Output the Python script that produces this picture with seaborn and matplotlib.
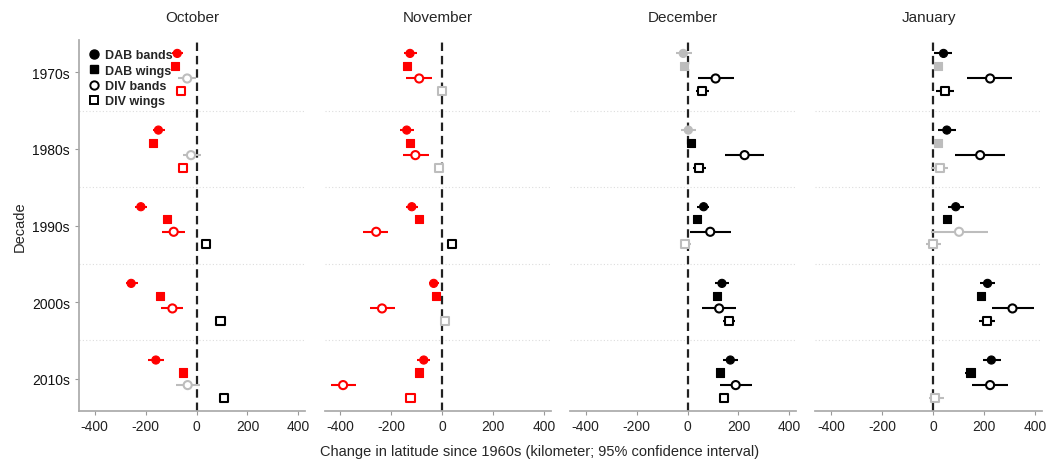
import numpy as np
import pandas as pd
import matplotlib
matplotlib.use("Agg")
import matplotlib.pyplot as plt
import seaborn as sns
from matplotlib.lines import Line2D

DECADES = ["1970s", "1980s", "1990s", "2000s", "2010s"]
SERIES = ["DAB bands", "DAB wings", "DIV bands", "DIV wings"]
MONTHS = ["October", "November", "December", "January"]
XTICKS = [-400, -200, 0, 200, 400]

# order within each decade: DAB bands, DAB wings, DIV bands, DIV wings
OCT_EST = [-76, -84, -37, -61, -150, -171, -22, -52, -219, -116, -90, 38,
           -257, -142, -95, 94, -160, -54, -35, 108]
OCT_LO = [-95, -90, -72, -66, -172, -176, -55, -57, -241, -121, -136, 33,
          -278, -147, -140, 75, -192, -59, -81, 94]
OCT_HI = [-52, -78, -3, -56, -124, -166, 16, -47, -193, -111, -46, 43,
          -232, -137, -52, 113, -128, -49, 13, 124]
OCT_SIG = ["n", "n", "x", "n", "n", "n", "x", "n", "n", "n", "n", "p",
           "n", "n", "n", "p", "n", "n", "x", "p"]

NOV_EST = [-126, -137, -90, 0, -139, -126, -105, -13, -119, -92, -259, 38,
           -33, -25, -236, 13, -72, -90, -389, -124]
NOV_LO = [-150, -142, -140, -6, -166, -131, -154, -20, -143, -97, -309, 32,
          -53, -30, -285, 4, -98, -95, -437, -130]
NOV_HI = [-98, -132, -38, 6, -111, -121, -53, -6, -95, -87, -211, 44,
          -13, -20, -185, 25, -46, -85, -340, -118]
NOV_SIG = ["n", "n", "n", "x", "n", "n", "n", "x", "n", "n", "n", "p",
           "n", "n", "n", "x", "n", "n", "n", "n"]

DEC_EST = [-17, -14, 110, 57, 3, 13, 224, 44, 63, 38, 89, -9,
           135, 115, 124, 162, 168, 126, 189, 143]
DEC_LO = [-44, -19, 39, 33, -26, 8, 147, 21, 38, 33, 10, -31,
          108, 110, 57, 138, 138, 121, 126, 122]
DEC_HI = [16, -9, 183, 86, 34, 18, 300, 71, 86, 43, 170, 13,
          162, 120, 191, 188, 199, 131, 254, 164]
DEC_SIG = ["x", "x", "p", "p", "x", "p", "p", "p", "p", "p", "p", "x",
           "p", "p", "p", "p", "p", "p", "p", "p"]

JAN_EST = [41, 21, 224, 47, 54, 18, 185, 26, 89, 56, 102, 1,
           214, 189, 312, 213, 229, 147, 224, 9]
JAN_LO = [4, 10, 135, 12, 21, 8, 85, -8, 60, 45, -10, -29,
          185, 171, 231, 181, 197, 127, 152, -18]
JAN_HI = [76, 32, 312, 84, 90, 28, 283, 60, 120, 67, 215, 31,
          245, 208, 398, 244, 265, 166, 296, 41]
JAN_SIG = ["p", "x", "p", "p", "p", "x", "p", "x", "p", "p", "x", "x",
           "p", "p", "p", "p", "p", "p", "p", "x"]

PAL = {"n": "#FF0000", "p": "#000000", "x": "#BDBDBD"}
MARKERS = {"DAB bands": "o", "DAB wings": "s", "DIV bands": "o", "DIV wings": "s"}
OPEN = {"DAB bands": False, "DAB wings": False, "DIV bands": True, "DIV wings": True}
OFFSETS = [-0.245, -0.082, 0.082, 0.245]

month_data = [
    (OCT_EST, OCT_LO, OCT_HI, OCT_SIG),
    (NOV_EST, NOV_LO, NOV_HI, NOV_SIG),
    (DEC_EST, DEC_LO, DEC_HI, DEC_SIG),
    (JAN_EST, JAN_LO, JAN_HI, JAN_SIG),
]

sns.set_theme(style="white")
plt.rcParams["font.family"] = ["Liberation Sans", "DejaVu Sans"]

fig = plt.figure(figsize=(10.55, 4.64), dpi=100)
left0, width, step = 79 / 1055, 226 / 1055, 245.5 / 1055
bottom, height = 1 - 412 / 464, (412 - 41) / 464

for m, (month, (est, lo, hi, sig)) in enumerate(zip(MONTHS, month_data)):
    ax = fig.add_axes([left0 + m * step, bottom, width, height])
    rows = []
    for i in range(len(est)):
        d, s = divmod(i, 4)
        rows.append({"decade": d, "series": SERIES[s], "y": d + OFFSETS[s],
                     "est": est[i], "lo": lo[i], "hi": hi[i], "sig": sig[i]})
    df = pd.DataFrame(rows)

    for yb in [0.5, 1.5, 2.5, 3.5]:
        ax.axhline(yb, color="#DDDDDD", lw=0.8, ls=(0, (1, 2)), zorder=0)
    ax.axvline(0, color="#222222", lw=1.6, ls=(0, (3.8, 2.2)), zorder=1)

    ax.hlines(df["y"], df["lo"], df["hi"], colors=[PAL[c] for c in df["sig"]],
              lw=1.5, zorder=2)
    for sname in SERIES:
        sub = df[df["series"] == sname]
        is_open = OPEN[sname]
        sns.scatterplot(data=sub, x="est", y="y", hue="sig", palette=PAL,
                        marker=MARKERS[sname], s=34,
                        edgecolor="face", linewidth=0.8, legend=False, ax=ax, zorder=3)
        coll = ax.collections[-1]
        if is_open:
            fc = np.array([matplotlib.colors.to_rgba(PAL[c]) for c in sub["sig"]])
            coll.set_edgecolors(fc)
            coll.set_facecolors("white")
            coll.set_linewidths(1.5)

    ax.set_xlim(-462, 426)
    ax.set_ylim(4.42, -0.42)
    ax.set_xticks(XTICKS)
    ax.set_xticklabels([str(t) for t in XTICKS])
    ax.set_yticks(range(len(DECADES)))
    ax.set_xlabel("")
    ax.set_ylabel("")
    ax.set_title(month, fontsize=11, pad=14)
    ax.tick_params(axis="x", colors="#999999", labelcolor="#222222", labelsize=10,
                   length=3, width=0.8, direction="out", bottom=True, pad=3)
    for sp in ["top", "right"]:
        ax.spines[sp].set_visible(False)
    ax.spines["bottom"].set_color("#AAAAAA")
    if m == 0:
        ax.set_yticklabels(DECADES)
        ax.tick_params(axis="y", colors="#999999", labelcolor="#111111", labelsize=10,
                       length=3, width=0.8, left=True)
        ax.spines["left"].set_color("#AAAAAA")
        ax.set_ylabel("Decade", fontsize=10.5, labelpad=4)
        handles = [
            Line2D([], [], ls="none", marker="o", ms=6.5, mfc="black", mec="black"),
            Line2D([], [], ls="none", marker="s", ms=6, mfc="black", mec="black"),
            Line2D([], [], ls="none", marker="o", ms=6, mfc="white", mec="black", mew=1.4),
            Line2D([], [], ls="none", marker="s", ms=5.5, mfc="white", mec="black", mew=1.4),
        ]
        ax.legend(handles, SERIES, loc="upper left", bbox_to_anchor=(0.0, 1.0),
                  frameon=False, prop={"weight": "bold", "size": 9},
                  handletextpad=0.4, labelspacing=0.26, borderaxespad=0.4,
                  handlelength=0.9, borderpad=0.35)
    else:
        ax.set_yticklabels([])
        ax.tick_params(axis="y", left=False)
        ax.spines["left"].set_visible(False)

fig.text(540 / 1055, 1 - 452 / 464,
         "Change in latitude since 1960s (kilometer; 95% confidence interval)",
         ha="center", va="center", fontsize=10.5)

fig.savefig("out.png", dpi=100)
